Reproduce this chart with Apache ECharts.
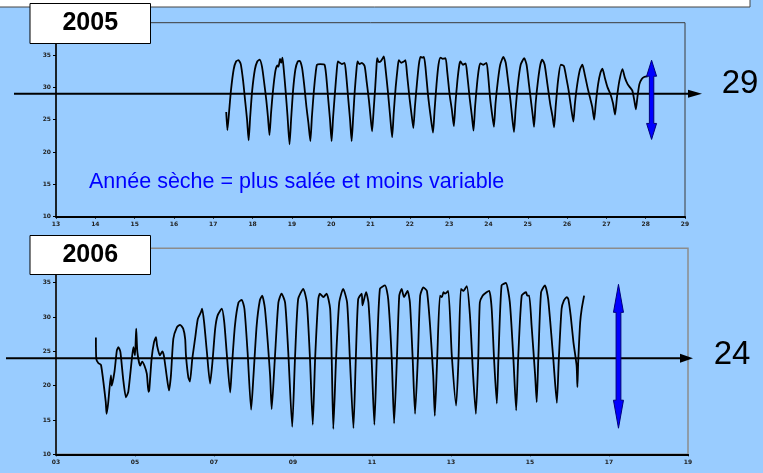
<!DOCTYPE html>
<html>
<head>
<meta charset="utf-8">
<script src="https://cdn.jsdelivr.net/npm/echarts@6/dist/echarts.min.js"></script>
<style>
  html, body { margin: 0; padding: 0; background: #99ccff; }
  #chart { width: 763px; height: 473px; }
</style>
</head>
<body>
<div id="chart"></div>
<script>
// Salinity records, [day, salinity]
const salinity2005 = [
  [17.33,26.2],[17.36,23.4],[17.40,26.0],[17.45,29.5],[17.52,32.8],[17.58,34.0],[17.64,34.2],[17.70,33.6],[17.76,31.0],[17.81,28.0],[17.86,25.0],
  [17.90,21.8],[17.94,25.5],[17.99,29.5],[18.06,32.8],[18.12,34.0],[18.18,34.3],[18.24,33.2],[18.30,30.5],[18.35,28.0],[18.39,25.5],
  [18.43,22.6],[18.47,26.0],[18.52,29.5],[18.58,32.5],[18.63,33.4],[18.66,33.2],[18.70,34.4],[18.73,33.8],[18.76,34.6],[18.79,33.0],[18.84,29.5],[18.89,25.5],
  [18.94,21.2],[18.98,25.0],[19.03,29.5],[19.09,32.8],[19.15,34.0],[19.20,34.1],[19.26,33.0],[19.32,30.0],[19.37,27.0],[19.42,24.5],
  [19.47,21.7],[19.51,25.5],[19.56,29.5],[19.61,32.5],[19.64,33.5],[19.72,33.6],[19.83,33.5],[19.87,32.0],[19.92,28.5],[19.97,25.0],
  [20.01,21.7],[20.05,25.5],[20.10,29.5],[20.14,32.5],[20.17,34.0],[20.22,33.8],[20.27,33.6],[20.34,33.8],[20.38,32.0],[20.43,28.5],[20.48,25.0],
  [20.52,21.7],[20.56,25.5],[20.60,29.5],[20.64,32.5],[20.67,34.0],[20.72,33.6],[20.78,33.8],[20.85,33.3],[20.90,31.0],[20.96,28.0],[21.00,25.5],
  [21.04,23.2],[21.08,26.5],[21.12,30.0],[21.15,33.0],[21.17,34.5],[21.21,33.9],[21.27,34.1],[21.34,34.8],[21.38,33.0],[21.44,29.5],[21.50,25.5],
  [21.55,22.3],[21.59,26.0],[21.64,30.0],[21.69,33.0],[21.72,34.2],[21.78,33.8],[21.85,34.0],[21.89,34.2],[21.93,32.0],[21.99,28.5],[22.05,25.5],
  [22.09,23.7],[22.13,27.0],[22.18,30.5],[22.23,33.5],[22.27,34.7],[22.32,34.6],[22.36,34.7],[22.40,33.0],[22.46,29.0],[22.53,25.5],
  [22.59,23.0],[22.63,26.5],[22.68,30.5],[22.73,33.5],[22.78,34.6],[22.84,34.4],[22.91,34.5],[22.95,32.5],[23.01,29.0],[23.07,26.5],
  [23.12,24.0],[23.16,27.5],[23.21,31.0],[23.26,33.5],[23.29,34.0],[23.35,33.5],[23.42,33.7],[23.46,32.0],[23.52,28.5],[23.58,25.5],
  [23.62,23.3],[23.66,27.0],[23.71,30.5],[23.76,33.0],[23.80,33.7],[23.87,33.5],[23.95,33.8],[23.99,32.0],[24.04,28.5],[24.10,25.5],
  [24.14,23.9],[24.18,27.5],[24.24,31.0],[24.30,33.5],[24.38,34.7],[24.44,33.8],[24.50,31.0],[24.56,28.0],[24.61,25.0],
  [24.65,23.1],[24.69,26.5],[24.75,30.5],[24.82,33.5],[24.91,34.5],[24.97,33.5],[25.03,30.5],[25.09,27.5],[25.13,25.5],
  [25.16,23.9],[25.20,27.5],[25.26,31.0],[25.32,33.5],[25.37,34.3],[25.43,33.5],[25.50,30.5],[25.57,27.5],[25.63,25.5],
  [25.67,23.8],[25.71,27.0],[25.77,31.0],[25.84,33.5],[25.92,33.3],[25.98,31.5],[26.04,29.5],[26.10,27.0],
  [26.16,24.7],[26.20,27.5],[26.26,30.5],[26.33,32.8],[26.39,33.5],[26.45,32.0],[26.52,30.0],[26.58,28.5],[26.64,27.0],
  [26.69,25.0],[26.73,27.5],[26.79,30.5],[26.85,32.3],[26.90,32.9],[26.96,31.5],[27.03,30.0],[27.10,29.0],[27.17,27.5],
  [27.22,25.8],[27.27,28.5],[27.33,31.0],[27.41,32.8],[27.47,31.5],[27.54,30.5],[27.60,30.0],[27.66,29.5],[27.71,28.0],
  [27.75,26.6],[27.79,28.5],[27.84,30.5],[27.90,31.3],[27.96,31.6],[28.05,31.7]
];

const salinity2006 = [
  [4.01,27.0],[4.02,23.9],[4.07,23.3],[4.14,23.0],[4.26,17.6],[4.28,15.9],[4.32,17.4],[4.39,21.5],[4.41,20.0],[4.48,22.0],[4.54,25.1],[4.58,25.6],
  [4.63,24.9],[4.70,21.0],[4.77,18.3],[4.83,19.1],[4.92,23.9],[4.96,25.6],[5.00,24.4],[5.03,28.3],[5.06,24.9],[5.13,22.9],[5.18,23.5],[5.24,22.9],
  [5.30,21.7],[5.34,19.1],[5.36,19.3],[5.42,23.9],[5.48,26.3],[5.53,27.05],[5.56,25.8],[5.63,24.4],[5.69,25.0],[5.73,24.4],[5.80,21.5],[5.86,19.3],
  [5.91,21.5],[5.97,26.8],[6.06,28.5],[6.14,28.85],[6.22,28.3],[6.27,26.8],[6.29,24.4],[6.35,21.2],[6.39,20.6],[6.45,23.9],[6.52,26.8],[6.59,29.7],
  [6.67,30.7],[6.70,31.2],[6.75,29.2],[6.82,24.9],[6.90,20.3],[6.96,23.4],[7.03,28.3],[7.09,30.2],[7.20,31.2],[7.26,29.2],[7.32,24.9],[7.41,19.0],
  [7.45,22.5],[7.53,28.75],[7.62,32.1],[7.70,32.5],[7.77,31.2],[7.85,24.9],[7.94,16.5],[8.00,21.5],[8.08,28.75],[8.16,32.4],[8.22,33.1],
  [8.29,31.2],[8.42,21.5],[8.46,16.6],[8.54,23.9],[8.63,32.1],[8.71,33.4],[8.80,32.1],[8.88,24.9],
  [8.98,14.0],[9.05,23.9],[9.13,32.6],[9.26,34.1],[9.35,32.1],[9.43,23.9],
  [9.50,14.3],[9.56,23.9],[9.64,32.6],[9.68,33.4],[9.77,32.9],[9.85,33.4],[9.94,31.2],[9.98,23.9],
  [10.02,13.7],[10.09,23.9],[10.17,32.1],[10.27,34.1],[10.37,32.1],[10.44,23.9],
  [10.53,13.8],[10.59,23.9],[10.65,32.6],[10.74,33.4],[10.76,31.7],[10.85,33.6],[10.91,32.1],[10.99,23.9],
  [11.06,14.3],[11.12,23.9],[11.20,34.1],[11.33,34.6],[11.41,32.6],[11.50,23.9],
  [11.56,14.5],[11.63,23.9],[11.69,33.1],[11.75,34.1],[11.81,32.9],[11.90,33.8],[11.96,32.1],[12.03,23.9],
  [12.09,15.9],[12.16,23.9],[12.22,33.1],[12.30,34.3],[12.39,33.8],[12.47,28.75],[12.55,21.5],
  [12.59,15.6],[12.65,23.9],[12.72,33.1],[12.77,32.9],[12.81,33.6],[12.85,33.4],[12.93,33.8],[13.02,24.4],
  [13.13,17.1],[13.19,23.9],[13.25,34.1],[13.31,33.8],[13.40,34.5],[13.48,30.2],[13.56,21.5],
  [13.63,15.9],[13.69,23.9],[13.73,32.1],[13.80,33.1],[13.90,33.6],[13.97,33.8],[14.03,31.2],[14.09,23.9],
  [14.16,17.4],[14.20,23.9],[14.28,34.6],[14.39,34.95],[14.49,32.1],[14.58,23.9],
  [14.65,16.4],[14.70,23.9],[14.79,33.1],[14.90,33.6],[14.93,33.1],[14.98,33.1],[15.04,28.75],[15.13,21.5],
  [15.17,17.6],[15.21,23.9],[15.28,33.6],[15.38,34.6],[15.46,32.6],[15.59,23.9],
  [15.68,17.5],[15.73,23.9],[15.80,31.2],[15.86,32.4],[15.93,32.9],[15.97,32.6],[16.03,30.2],[16.10,26.3],[16.18,22.9],
  [16.20,19.8],[16.22,23.4],[16.27,29.2],[16.31,31.2],[16.37,33.1]
];

// Reference salinity levels and the range arrows of each year
const refLevel2005 = 29;
const refLevel2006 = 24;
const range2005 = { day: 28.15, low: 21.95, high: 34.2 };
const range2006 = { day: 17.24, low: 13.8, high: 34.75 };

const yearLabels = ['2005', '2006'];
const note2005 = 'Année sèche = plus salée et moins variable';

const chart = echarts.init(document.getElementById('chart'), null, { renderer: 'canvas' });

const tickLabel = { fontSize: 6, color: '#222', fontFamily: 'DejaVu Sans', fontWeight: 'bold' };

function yAxisFor(gridIndex) {
  return {
    type: 'value', gridIndex, min: 10, max: 40, interval: 5,
    axisLine: { show: true, lineStyle: { color: '#000', width: 1.5 } },
    axisTick: { show: true, length: 3, lineStyle: { color: '#000' } },
    axisLabel: Object.assign({ margin: 5, showMaxLabel: false }, tickLabel),
    splitLine: { show: false }
  };
}

chart.setOption({
  backgroundColor: '#99ccff',
  animation: false,
  grid: [
    { left: 56, top: 22.7, right: 78, height: 194, show: true, borderColor: '#3a3a3a', borderWidth: 1, backgroundColor: 'transparent' },
    { left: 56, top: 248.3, right: 75, height: 206, show: true, borderColor: '#8c8c8c', borderWidth: 1.5, backgroundColor: 'transparent' }
  ],
  xAxis: [
    {
      type: 'value', gridIndex: 0, min: 13, max: 29, interval: 1,
      axisLine: { show: true, onZero: false, lineStyle: { color: '#000', width: 2 } },
      axisTick: { show: true, length: 2, lineStyle: { color: '#000' } },
      axisLabel: Object.assign({ margin: 5 }, tickLabel),
      splitLine: { show: false }
    },
    {
      type: 'value', gridIndex: 1, min: 3, max: 19, interval: 2,
      axisLine: { show: true, onZero: false, lineStyle: { color: '#000', width: 2 } },
      axisTick: { show: true, length: 2, lineStyle: { color: '#000' } },
      axisLabel: Object.assign({ margin: 5, formatter: v => String(v).padStart(2, '0') }, tickLabel),
      splitLine: { show: false }
    }
  ],
  yAxis: [yAxisFor(0), yAxisFor(1)],
  series: [
    {
      type: 'line', xAxisIndex: 0, yAxisIndex: 0, data: salinity2005,
      showSymbol: false, smooth: 0.2, lineStyle: { color: '#000', width: 1.8 }
    },
    {
      type: 'line', xAxisIndex: 1, yAxisIndex: 1, data: salinity2006,
      showSymbol: false, smooth: 0.2, lineStyle: { color: '#000', width: 1.8 }
    }
  ]
});

// Annotations placed from the axes' own scales
function px(gridIndex, x, y) {
  return chart.convertToPixel({ gridIndex }, [x, y]);
}

function levelLine(gridIndex, level, startX, tipX, headLen, headHalf) {
  const y = px(gridIndex, 10, level)[1];
  return [
    { type: 'line', z: 50, shape: { x1: startX, y1: y, x2: tipX - headLen + 1, y2: y }, style: { stroke: '#000', lineWidth: 2 } },
    { type: 'polygon', z: 50, shape: { points: [[tipX, y], [tipX - headLen, y - headHalf], [tipX - headLen, y + headHalf]] }, style: { fill: '#000' } }
  ];
}

function rangeArrow(gridIndex, r, headLen, headHalf, shaftHalf) {
  const top = px(gridIndex, r.day, r.high);
  const bot = px(gridIndex, r.day, r.low);
  const x = top[0];
  const pts = [
    [x, top[1]],
    [x + headHalf, top[1] + headLen],
    [x + shaftHalf, top[1] + headLen],
    [x + shaftHalf, bot[1] - headLen],
    [x + headHalf, bot[1] - headLen],
    [x, bot[1]],
    [x - headHalf, bot[1] - headLen],
    [x - shaftHalf, bot[1] - headLen],
    [x - shaftHalf, top[1] + headLen],
    [x - headHalf, top[1] + headLen]
  ];
  return { type: 'polygon', z: 60, shape: { points: pts }, style: { fill: '#0000ff', stroke: '#00007a', lineWidth: 1 } };
}

function yearBox(x, y, w, h, label) {
  return [
    { type: 'rect', z: 70, shape: { x, y, width: w, height: h }, style: { fill: '#fff', stroke: '#000', lineWidth: 1 } },
    { type: 'text', z: 71, x: x + w / 2, y: y + h / 2,
      style: { text: label, font: 'bold 25px "Liberation Sans", Arial, sans-serif', fill: '#000', align: 'center', verticalAlign: 'middle' } }
  ];
}

const g0 = chart.getModel().getComponent('grid', 0).coordinateSystem.getRect();
const g1 = chart.getModel().getComponent('grid', 1).coordinateSystem.getRect();

const level2005Y = px(0, 13, refLevel2005)[1];
const level2006Y = px(1, 3, refLevel2006)[1];

const elements = [
  // white banner along the top edge
  { type: 'rect', z: 40, shape: { x: -2, y: -2, width: 752, height: 9 }, style: { fill: '#fff', stroke: '#444', lineWidth: 1 } },
  ...levelLine(0, refLevel2005, g0.x - 42, g0.x + g0.width + 17, 14, 4),
  ...levelLine(1, refLevel2006, g1.x - 50, g1.x + g1.width + 5, 13, 4.5),
  rangeArrow(0, range2005, 16, 5, 2.2),
  rangeArrow(1, range2006, 28, 5, 2.4),
  { type: 'text', z: 60, x: 740, y: level2005Y - 10,
    style: { text: String(refLevel2005), font: '33px "Liberation Sans", Arial, sans-serif', fill: '#000', align: 'center', verticalAlign: 'middle' } },
  { type: 'text', z: 60, x: 732, y: level2006Y - 3,
    style: { text: String(refLevel2006), font: '33px "Liberation Sans", Arial, sans-serif', fill: '#000', align: 'center', verticalAlign: 'middle' } },
  { type: 'text', z: 60, x: 89, y: 182,
    style: { text: note2005, font: '21.5px "Liberation Sans", Arial, sans-serif', fill: '#0000ff', align: 'left', verticalAlign: 'middle' } },
  ...yearBox(30, 3.5, 120.5, 40, yearLabels[0]),
  ...yearBox(30, 235.5, 120.5, 39, yearLabels[1])
];

chart.setOption({ graphic: elements });
</script>
</body>
</html>
